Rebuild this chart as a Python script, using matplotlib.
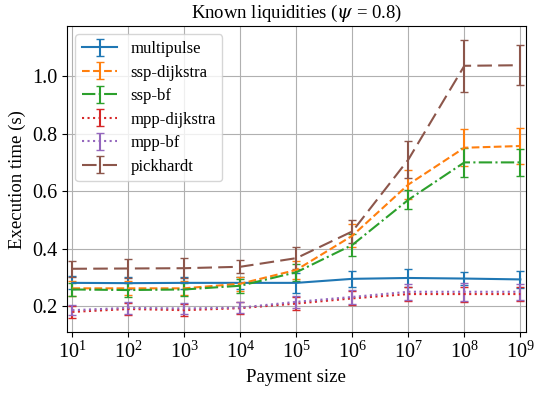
import numpy as np
import matplotlib
matplotlib.use("Agg")
import matplotlib.pyplot as plt

plt.rcParams["font.family"] = ["Liberation Serif", "DejaVu Serif"]
plt.rcParams["mathtext.fontset"] = "dejavuserif"

# payment sizes and mean execution times (s) with std error bars
payment = [1e1, 1e2, 1e3, 1e4, 1e5, 1e6, 1e7, 1e8, 1e9]

multipulse = [0.281, 0.280, 0.281, 0.281, 0.281, 0.295, 0.298, 0.296, 0.293]
multipulse_err = [0.023, 0.022, 0.022, 0.022, 0.035, 0.027, 0.030, 0.022, 0.030]

ssp_dijkstra = [0.262, 0.262, 0.262, 0.278, 0.326, 0.445, 0.623, 0.751, 0.757]
ssp_dijkstra_err = [0.025, 0.024, 0.024, 0.025, 0.030, 0.040, 0.050, 0.065, 0.062]

ssp_bf = [0.258, 0.256, 0.258, 0.271, 0.318, 0.413, 0.570, 0.700, 0.700]
ssp_bf_err = [0.024, 0.024, 0.024, 0.024, 0.030, 0.038, 0.033, 0.050, 0.047]

mpp_dijkstra = [0.180, 0.190, 0.186, 0.193, 0.209, 0.227, 0.242, 0.242, 0.242]
mpp_dijkstra_err = [0.022, 0.020, 0.020, 0.020, 0.022, 0.024, 0.025, 0.026, 0.025]

mpp_bf = [0.186, 0.194, 0.192, 0.195, 0.215, 0.232, 0.250, 0.250, 0.250]
mpp_bf_err = [0.018, 0.020, 0.019, 0.020, 0.022, 0.024, 0.027, 0.031, 0.028]

pickhardt = [0.330, 0.331, 0.332, 0.337, 0.367, 0.460, 0.710, 1.036, 1.038]
pickhardt_err = [0.028, 0.032, 0.035, 0.023, 0.037, 0.040, 0.065, 0.090, 0.070]

series = [
    ("multipulse", multipulse, multipulse_err, "tab:blue", "-"),
    ("ssp-dijkstra", ssp_dijkstra, ssp_dijkstra_err, "tab:orange", "--"),
    ("ssp-bf", ssp_bf, ssp_bf_err, "tab:green", "-."),
    ("mpp-dijkstra", mpp_dijkstra, mpp_dijkstra_err, "tab:red", ":"),
    ("mpp-bf", mpp_bf, mpp_bf_err, "tab:purple", ":"),
    ("pickhardt", pickhardt, pickhardt_err, "tab:brown", (0, (7, 3))),
]

fig = plt.figure(figsize=(5.34, 3.94), dpi=100)
ax = fig.add_axes([0.1255, 0.157, 0.859, 0.777])

for name, vals, err, col, ls in series:
    ax.errorbar(payment, vals, yerr=err, label=name, color=col,
                linestyle=ls, capsize=3, linewidth=1.5)

ax.set_xscale("log")
ax.margins(x=0.012)
ax.set_xticks(payment)
ax.grid(True, color="#b0b0b0", linewidth=0.8)
ax.tick_params(labelsize=14.5)
ax.set_xlabel("Payment size", fontsize=13.5)
ax.set_ylabel("Execution time (s)", fontsize=13.5)
ax.set_title(r"Known liquidities ($\psi$ = 0.8)", fontsize=13.5)
ax.legend(loc="upper left", fontsize=12, labelspacing=0.45, handlelength=2.1)

fig.savefig("out.png", dpi=100)
